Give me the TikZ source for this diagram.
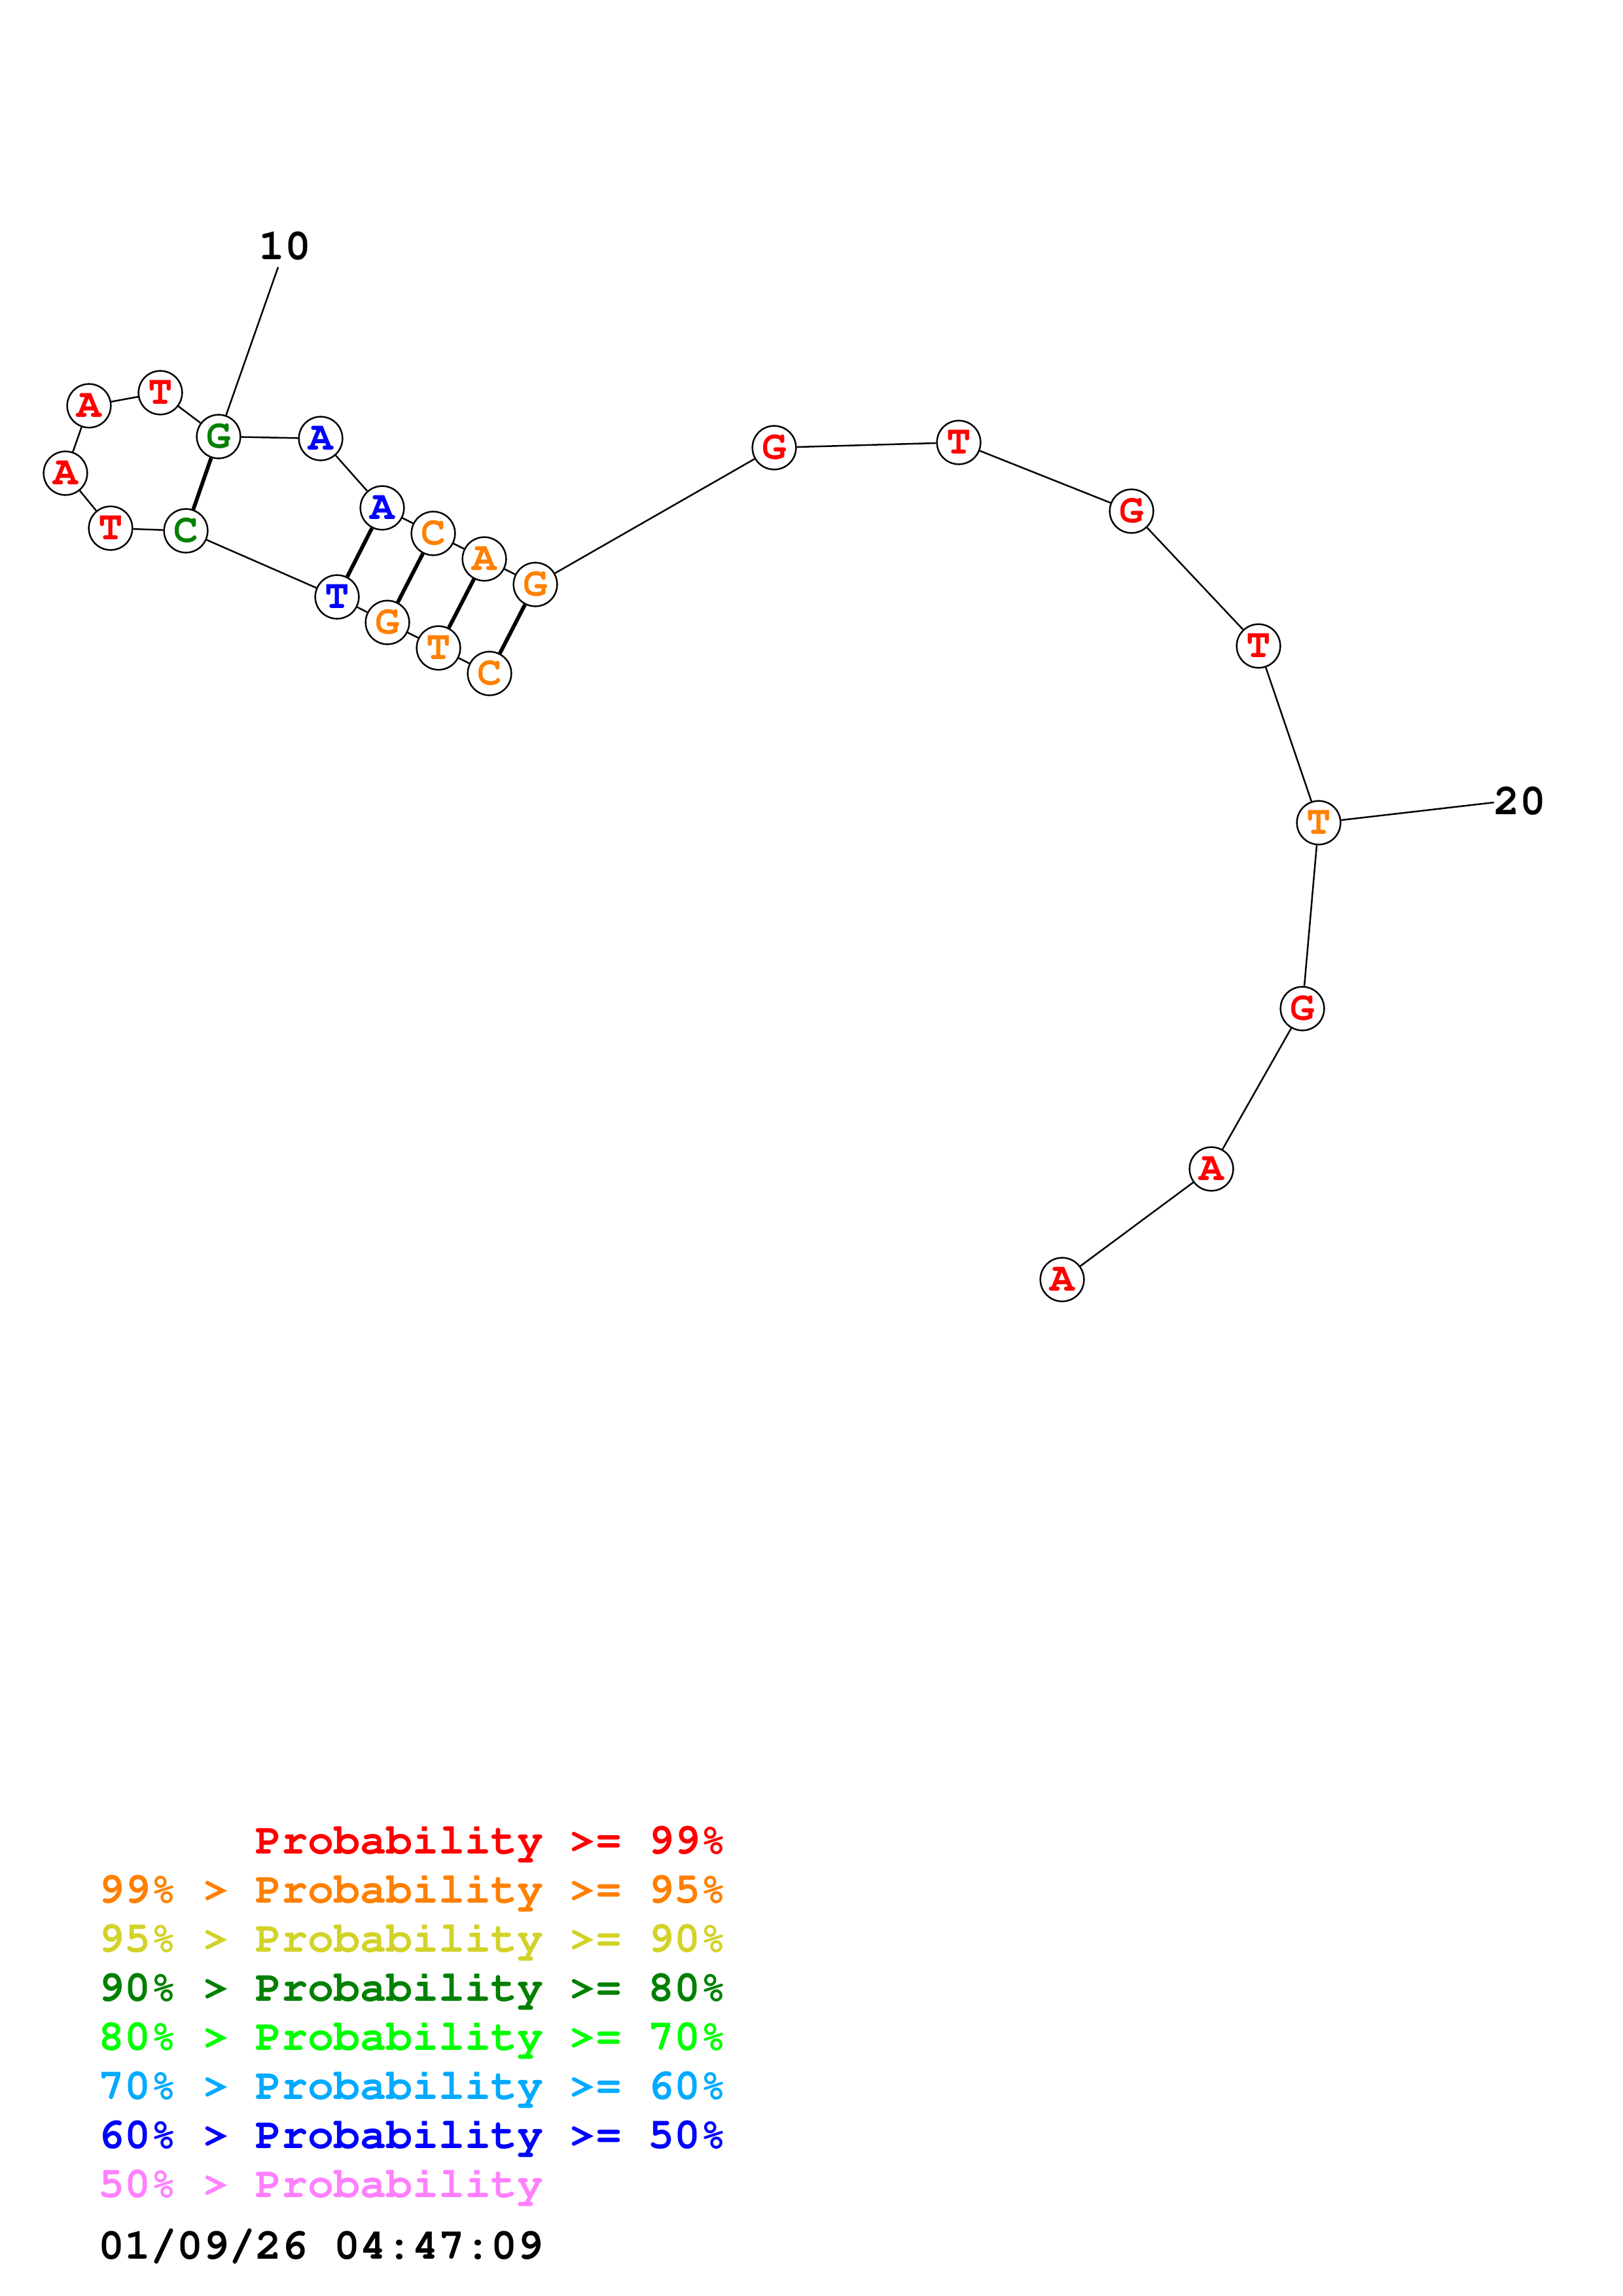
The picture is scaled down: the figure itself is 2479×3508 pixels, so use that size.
\documentclass[tikz,border=0pt]{standalone}
\usepackage[T1]{fontenc}
\usepackage{tikz}
\usetikzlibrary{positioning}
\newcommand\seqmono{\fontfamily{pcr}\fontseries{b}\selectfont}
\definecolor{ProbA}{RGB}{255,0,0}
\definecolor{ProbB}{RGB}{255,128,0}
\definecolor{ProbC}{RGB}{210,210,40}
\definecolor{ProbD}{RGB}{0,128,0}
\definecolor{ProbE}{RGB}{0,255,0}
\definecolor{ProbF}{RGB}{0,170,255}
\definecolor{ProbG}{RGB}{0,0,255}
\definecolor{ProbH}{RGB}{255,128,255}

\begin{document}
\begin{tikzpicture}[
    x=0.24pt,y=-0.24pt,
    base/.style={circle,draw=black,fill=white,line width=0.6pt,minimum size=16pt,inner sep=0pt,font=\seqmono\fontsize{15pt}{15pt}\selectfont},
    backbone/.style={draw=black,line width=0.6pt},
    pair/.style={draw=black,line width=1.4pt},
    numlabel/.style={anchor=base,inner sep=0pt,font=\seqmono\fontsize{16pt}{16pt}\selectfont},
    legend/.style={anchor=base west,inner sep=0pt,font=\seqmono\fontsize{16pt}{16pt}\selectfont}
]
\useasboundingbox (0,0) rectangle (2479,3508);

% Bases of the hairpin
\node[base,text=ProbB] (n1) at (748,1029) {C};
\node[base,text=ProbB] (n2) at (670,990) {T};
\node[base,text=ProbB] (n3) at (592,951) {G};
\node[base,text=ProbG] (n4) at (515,912) {T};
\node[base,text=ProbD] (n5) at (284,811) {C};
\node[base,text=ProbA] (n6) at (169,807) {T};
\node[base,text=ProbA] (n7) at (100,723) {A};
\node[base,text=ProbA] (n8) at (136,620) {A};
\node[base,text=ProbA] (n9) at (245,600) {T};
\node[base,text=ProbD] (n10) at (334,667) {G};
\node[base,text=ProbG] (n11) at (490,670) {A};
\node[base,text=ProbG] (n12) at (584,776) {A};
\node[base,text=ProbB] (n13) at (662,815) {C};
\node[base,text=ProbB] (n14) at (740,854) {A};
\node[base,text=ProbB] (n15) at (818,893) {G};

% Single-stranded tail
\node[base,text=ProbA] (n16) at (1183,684) {G};
\node[base,text=ProbA] (n17) at (1465,676) {T};
\node[base,text=ProbA] (n18) at (1729,781) {G};
\node[base,text=ProbA] (n19) at (1923,987) {T};
\node[base,text=ProbB] (n20) at (2015,1257) {T};
\node[base,text=ProbA] (n21) at (1990,1541) {G};
\node[base,text=ProbA] (n22) at (1851,1786) {A};
\node[base,text=ProbA] (n23) at (1623,1955) {A};

% Backbone
\draw[backbone] (n1) -- (n2) -- (n3) -- (n4) -- (n5) -- (n6) -- (n7) -- (n8)
    -- (n9) -- (n10) -- (n11) -- (n12) -- (n13) -- (n14) -- (n15) -- (n16)
    -- (n17) -- (n18) -- (n19) -- (n20) -- (n21) -- (n22) -- (n23);

% Base pairs
\draw[pair] (n1) -- (n15);
\draw[pair] (n2) -- (n14);
\draw[pair] (n3) -- (n13);
\draw[pair] (n4) -- (n12);
\draw[pair] (n5) -- (n10);

% Position ticks
\coordinate (tick10) at (425,408);
\coordinate (tick20) at (2283,1226);
\draw[backbone] (n10) -- (tick10);
\draw[backbone] (n20) -- (tick20);
\node[numlabel] (lab10) at (435,397) {10};
\node[numlabel] (lab20) at (2322,1244) {20};

% Legend
\node[legend,text=ProbA] (leg1) at (150,2832) {\phantom{99\% > }Probability >= 99\%};
\node[legend,text=ProbB] (leg2) at (150,2907) {99\% > Probability >= 95\%};
\node[legend,text=ProbC] (leg3) at (150,2982) {95\% > Probability >= 90\%};
\node[legend,text=ProbD] (leg4) at (150,3057) {90\% > Probability >= 80\%};
\node[legend,text=ProbE] (leg5) at (150,3132) {80\% > Probability >= 70\%};
\node[legend,text=ProbF] (leg6) at (150,3207) {70\% > Probability >= 60\%};
\node[legend,text=ProbG] (leg7) at (150,3282) {60\% > Probability >= 50\%};
\node[legend,text=ProbH] (leg8) at (150,3357) {50\% > Probability};
\node[legend,text=black] (date) at (150,3451) {01/09/26 04:47:09};

\end{tikzpicture}
\end{document}
